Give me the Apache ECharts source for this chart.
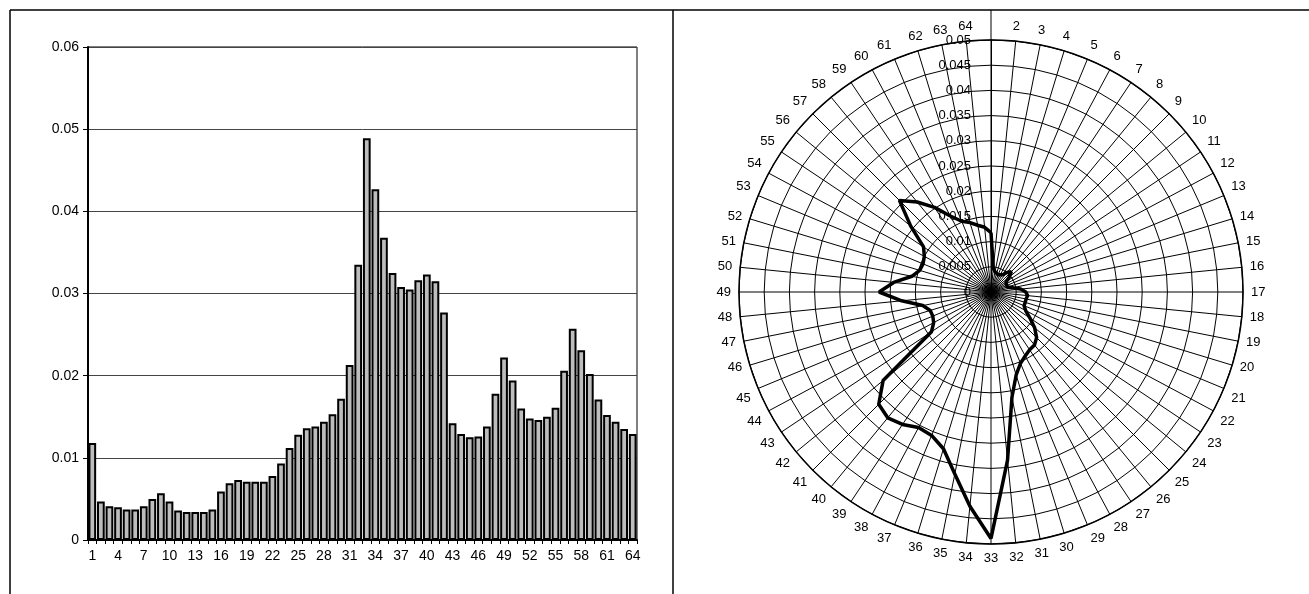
<!DOCTYPE html>
<html>
<head>
<meta charset="utf-8">
<script src="https://cdn.jsdelivr.net/npm/echarts@6/dist/echarts.min.js"></script>
<style>
  html, body { margin: 0; padding: 0; background: #fff; }
  #main { width: 1309px; height: 594px; }
</style>
</head>
<body>
<div id="main"></div>
<script>
// category labels 1..64
var categories = ['1','2','3','4','5','6','7','8','9','10','11','12','13','14','15','16',
  '17','18','19','20','21','22','23','24','25','26','27','28','29','30','31','32',
  '33','34','35','36','37','38','39','40','41','42','43','44','45','46','47','48',
  '49','50','51','52','53','54','55','56','57','58','59','60','61','62','63','64'];

// frequency per category (same series drawn as bars and on the polar plot)
var values = [0.0118, 0.0047, 0.0041, 0.0040, 0.0037, 0.0037, 0.0041, 0.0050, 0.0057, 0.0047,
  0.0036, 0.0034, 0.0034, 0.0034, 0.0037, 0.0059, 0.0069, 0.0073, 0.0071, 0.0071,
  0.0071, 0.0078, 0.0093, 0.0112, 0.0128, 0.0136, 0.0138, 0.0144, 0.0153, 0.0172,
  0.0213, 0.0335, 0.0489, 0.0427, 0.0368, 0.0325, 0.0308, 0.0305, 0.0316, 0.0323,
  0.0315, 0.0277, 0.0142, 0.0129, 0.0125, 0.0126, 0.0138, 0.0178, 0.0222, 0.0194,
  0.0160, 0.0148, 0.0146, 0.0150, 0.0161, 0.0206, 0.0257, 0.0231, 0.0202, 0.0171,
  0.0152, 0.0144, 0.0135, 0.0129];

var barTicks = ['0', '0.01', '0.02', '0.03', '0.04', '0.05', '0.06'];
var polarTicks = ['0', '0.005', '0.01', '0.015', '0.02', '0.025', '0.03', '0.035', '0.04', '0.045', '0.05'];

document.addEventListener('DOMContentLoaded', function() {
  var myChart = echarts.init(document.getElementById('main'));
  var font = 'Liberation Sans, Arial, sans-serif';

  // polar line: angle = category index, closed by repeating the first value at 64
  var polarData = values.map(function(v, i) { return [v, i]; });
  polarData.push([values[0], values.length]);

  var option = {
    animation: false,
    textStyle: { fontFamily: font },
    graphic: [
      { type: 'line', shape: { x1: 10, y1: 10, x2: 1309, y2: 10 }, style: { stroke: '#000', lineWidth: 1.5 } },
      { type: 'line', shape: { x1: 10, y1: 10, x2: 10, y2: 594 }, style: { stroke: '#000', lineWidth: 1.5 } },
      { type: 'line', shape: { x1: 673, y1: 10, x2: 673, y2: 594 }, style: { stroke: '#000', lineWidth: 1.5 } },
      { type: 'line', shape: { x1: 991, y1: 10, x2: 991, y2: 40 }, style: { stroke: '#000', lineWidth: 1 } }
    ],
    grid: {
      left: 88, top: 47, width: 549, height: 493,
      show: true, borderColor: '#000', borderWidth: 1
    },
    xAxis: {
      type: 'category',
      data: categories,
      axisLine: { lineStyle: { color: '#000', width: 2 } },
      axisTick: { show: true, interval: 0, length: 4, lineStyle: { color: '#000' } },
      axisLabel: { interval: 2, color: '#000', fontSize: 14, margin: 9, fontFamily: font }
    },
    yAxis: {
      type: 'value',
      min: 0, max: 0.06, interval: 0.01,
      axisLine: { show: true, lineStyle: { color: '#000', width: 2 } },
      axisTick: { show: true, length: 5, lineStyle: { color: '#000' } },
      axisLabel: {
        color: '#000', fontSize: 14, margin: 9, fontFamily: font,
        formatter: function(v) { return barTicks[Math.round(v * 100)]; }
      },
      splitLine: { lineStyle: { color: '#444', width: 1 } }
    },
    polar: { center: [991, 292], radius: 252 },
    angleAxis: {
      type: 'value',
      min: 0, max: values.length, interval: 1,
      startAngle: 90, clockwise: true,
      axisLine: { lineStyle: { color: '#000', width: 1.5 } },
      axisTick: { show: false },
      axisLabel: {
        color: '#000', fontSize: 13, margin: 8, fontFamily: font,
        formatter: function(v) {
          return (v === 0 || v >= values.length) ? '' : categories[v];
        }
      },
      splitLine: { show: true, lineStyle: { color: '#000', width: 1 } }
    },
    radiusAxis: {
      type: 'value',
      min: 0, max: 0.05, interval: 0.005,
      axisLine: { show: true, lineStyle: { color: '#000', width: 1 } },
      axisTick: { show: false },
      axisLabel: {
        color: '#000', fontSize: 13, margin: 20, fontFamily: font,
        formatter: function(v) { return polarTicks[Math.round(v * 200)]; }
      },
      splitLine: { show: true, lineStyle: { color: '#000', width: 1 } }
    },
    series: [
      {
        name: 'bars',
        type: 'bar',
        data: values,
        barCategoryGap: '10%',
        itemStyle: { color: '#bdbdbd', borderColor: '#000', borderWidth: 2 }
      },
      {
        name: 'polar',
        type: 'line',
        coordinateSystem: 'polar',
        data: polarData,
        symbol: 'none',
        lineStyle: { color: '#000', width: 3.5 }
      }
    ]
  };

  myChart.setOption(option);
});
</script>
</body>
</html>
